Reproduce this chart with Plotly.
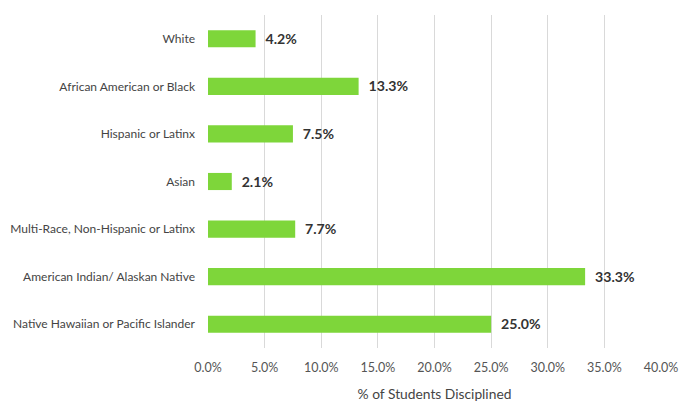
import plotly.graph_objects as go

groups = [
    "White",
    "African American or Black",
    "Hispanic or Latinx",
    "Asian",
    "Multi-Race, Non-Hispanic or Latinx",
    "American Indian/ Alaskan Native",
    "Native Hawaiian or Pacific Islander",
]
pct_disciplined = [4.2, 13.3, 7.5, 2.1, 7.7, 33.3, 25.0]
x_ticks = [0, 5, 10, 15, 20, 25, 30, 35, 40]

fig = go.Figure(go.Bar(
    x=pct_disciplined,
    y=groups,
    orientation="h",
    marker=dict(color="#7ed63a", line=dict(width=0)),
    text=[f"  {v:.1f}%" for v in pct_disciplined],
    textposition="outside",
    cliponaxis=False,
    textfont=dict(family="Lato", size=16.5, color="#333333", weight="bold"),
    width=0.36,
))

# page body has an 8px margin, so the figure is sized to fit inside it
fig.update_layout(
    width=681, height=405,
    margin=dict(l=200, r=28, t=7, b=65),
    plot_bgcolor="white", paper_bgcolor="white",
    font=dict(family="Lato", size=12.5, color="#555555"),
    showlegend=False,
    xaxis=dict(
        range=[0, 40], tickvals=x_ticks,
        ticktext=[f"{t:.1f}%" for t in x_ticks],
        showgrid=True, gridcolor="#d9d9d9", gridwidth=1,
        zeroline=False, showline=False, automargin=False,
        tickfont=dict(size=12.5, color="#555555"),
        title=dict(text="% of Students Disciplined", font=dict(size=13.8, color="#444444"), standoff=15),
        ticklabelstandoff=10,
    ),
    yaxis=dict(
        autorange="reversed", showgrid=False, zeroline=False, automargin=False,
        ticklabelstandoff=12, tickfont=dict(size=12, color="#444444"),
    ),
)

fig.write_html("out.html")
